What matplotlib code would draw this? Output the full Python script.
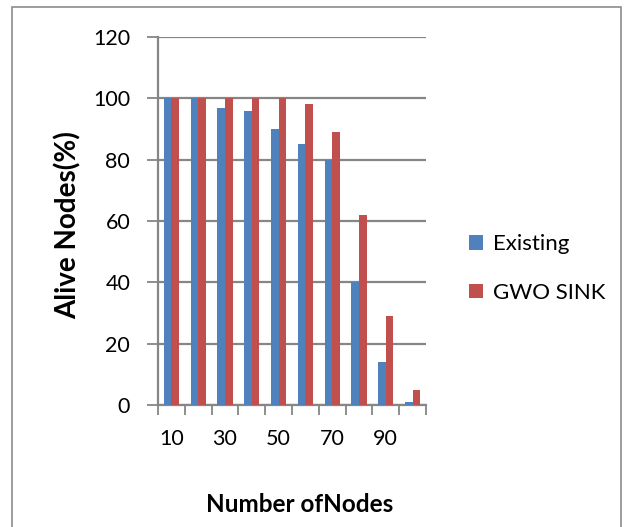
import matplotlib.pyplot as plt
import matplotlib.patches as mpatches
import numpy as np

# data
categories = ['10', '20', '30', '40', '50', '60', '70', '80', '90', '100']
existing = [100, 100, 97, 96, 90, 85, 80, 40, 14, 1]
gwo_sink = [100, 100, 100, 100, 100, 98, 89, 62, 29, 5]
series_names = ['Existing', 'GWO SINK']
y_ticks = [0, 20, 40, 60, 80, 100, 120]

blue = '#4F81BD'
red = '#C0504D'
grey = '#868686'

plt.rcParams['font.family'] = ['Lato', 'DejaVu Sans']

W, H = 633, 527
fig = plt.figure(figsize=(W / 100, H / 100), dpi=100)
ax = fig.add_axes([158 / W, 1 - 405 / H, (426 - 158) / W, (405 - 37) / H])

x = np.arange(len(categories))
w = 1 / 3.5
ax.bar(x - w / 2, existing, width=w, color=blue, label=series_names[0], zorder=3)
ax.bar(x + w / 2, gwo_sink, width=w, color=red, label=series_names[1], zorder=3)

ax.set_xlim(-0.5, len(categories) - 0.5)
ax.set_ylim(0, 120)
ax.set_yticks(y_ticks)
ax.set_yticklabels([str(v) for v in y_ticks], fontsize=15.5)
ax.yaxis.grid(True, color=grey, linewidth=1.6, zorder=0)

# category boundaries as major ticks, labels on every other category
ax.set_xticks(np.arange(-0.5, len(categories), 1))
ax.set_xticklabels([])
ax.set_xticks(x[::2], minor=True)
ax.set_xticklabels(categories[::2], minor=True, fontsize=15.5)
ax.tick_params(axis='x', which='major', length=7, color=grey, width=1.3, direction='out')
ax.tick_params(axis='x', which='minor', length=0, pad=17)
ax.tick_params(axis='y', length=8, color=grey, width=1.3, pad=12)

for s in ['top', 'right']:
    ax.spines[s].set_visible(False)
for s in ['left', 'bottom']:
    ax.spines[s].set_color(grey)
    ax.spines[s].set_linewidth(1.6)

fig.text(68 / W, 1 - 225 / H, 'Alive Nodes(%)', rotation=90, ha='center', va='center',
         fontsize=20, fontweight='bold')
fig.text(300 / W, 1 - 505 / H, 'Number ofNodes', ha='center', va='center',
         fontsize=17.5, fontweight='bold')

ax.legend(loc='upper left', bbox_to_anchor=(449 / W, 1 - 214 / H), bbox_transform=fig.transFigure,
          frameon=False, fontsize=16, handlelength=0.65, handleheight=0.65,
          handletextpad=0.45, labelspacing=1.3)

# outer chart border (bottom edge is cut off)
fig.add_artist(mpatches.Rectangle((12 / W, -0.05), (621 - 12) / W, 1.05 - 7 / H,
                                  transform=fig.transFigure, fill=False,
                                  edgecolor='#8c8c8c', linewidth=1.2))

fig.savefig('out.png', dpi=100)
